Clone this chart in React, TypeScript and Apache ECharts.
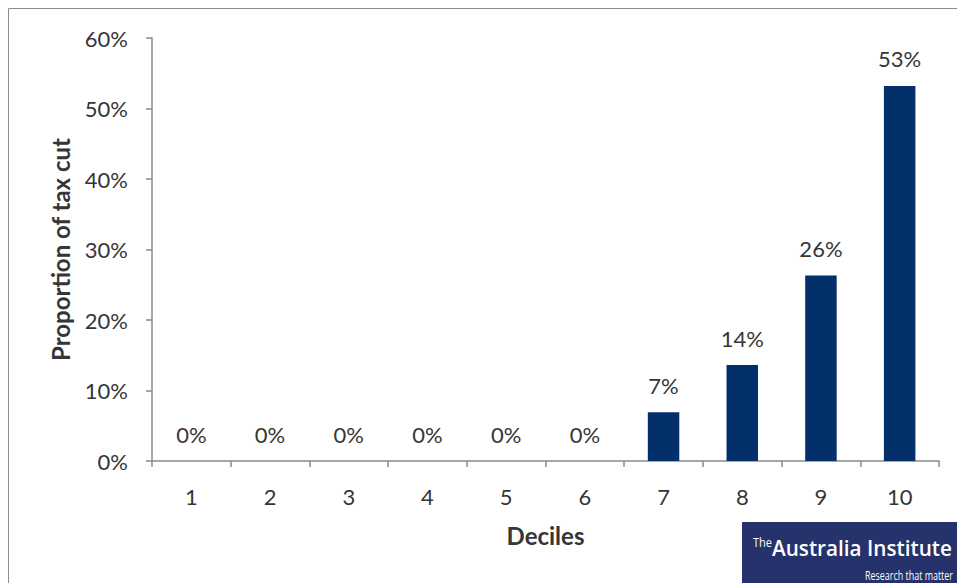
import React, { useEffect, useRef } from "react";
import * as echarts from "echarts";

// Share of the total tax cut received by each income decile (%)
const deciles = ["1", "2", "3", "4", "5", "6", "7", "8", "9", "10"];
const shareOfTaxCut = [0, 0, 0, 0, 0, 0, 6.9, 13.6, 26.3, 53.2];
const yTicks = { min: 0, max: 60, interval: 10 };

const FONT = "Lato, 'Open Sans', sans-serif";
const LOGO_FONT = "'Open Sans', sans-serif";
const TEXT = "#363636";
const AXIS = "#8a8a8a";
const NAVY = "#03306b";

// Horizontal squeeze needed to fit a string into a given width (condensed logo type)
function squeeze(text: string, font: string, width: number): number {
  const ctx = document.createElement("canvas").getContext("2d");
  if (!ctx) return 1;
  ctx.font = font;
  const w = ctx.measureText(text).width;
  return w > 0 ? width / w : 1;
}

export default function App() {
  const ref = useRef<HTMLDivElement>(null);

  useEffect(() => {
    if (!ref.current) return;
    const chart = echarts.init(ref.current, undefined, { renderer: "svg" });

    const logoMain = "Australia Institute";
    const logoTag = "Research that matter";
    const mainScale = squeeze(logoMain, `600 22px ${LOGO_FONT}`, 180);
    const tagScale = squeeze(logoTag, `400 12px ${LOGO_FONT}`, 88);
    const theScale = squeeze("The", `400 12px ${LOGO_FONT}`, 19);

    chart.setOption({
      animation: false,
      backgroundColor: "#ffffff",
      textStyle: { fontFamily: FONT },
      grid: { left: 152, right: 18, top: 38, bottom: 122, containLabel: false },
      xAxis: {
        type: "category",
        data: deciles,
        name: "Deciles",
        nameLocation: "middle",
        nameGap: 62,
        nameTextStyle: { fontFamily: FONT, fontSize: 24, fontWeight: "bold", color: TEXT },
        axisLine: { show: true, lineStyle: { color: AXIS, width: 1.5 } },
        axisTick: { show: true, length: 6, alignWithLabel: false, lineStyle: { color: AXIS, width: 1.5 } },
        axisLabel: { margin: 24, fontFamily: FONT, fontSize: 22, color: TEXT },
        splitLine: { show: false },
      },
      yAxis: {
        type: "value",
        min: yTicks.min,
        max: yTicks.max,
        interval: yTicks.interval,
        name: "Proportion of tax cut",
        nameLocation: "middle",
        nameRotate: 90,
        nameGap: 80,
        nameTextStyle: { fontFamily: FONT, fontSize: 24, fontWeight: "bold", color: TEXT },
        axisLine: { show: true, lineStyle: { color: AXIS, width: 1.5 } },
        axisTick: { show: true, length: 6, lineStyle: { color: AXIS, width: 1.5 } },
        axisLabel: { margin: 24, fontFamily: FONT, fontSize: 22, color: TEXT, formatter: "{value}%" },
        splitLine: { show: false },
      },
      series: [
        {
          type: "bar",
          data: shareOfTaxCut,
          barWidth: "40%",
          itemStyle: { color: NAVY },
          label: {
            show: true,
            position: "top",
            distance: 16,
            fontFamily: FONT,
            fontSize: 22,
            color: TEXT,
            formatter: (p: any) => `${Math.round(p.value)}%`,
          },
        },
      ],
      graphic: [
        {
          type: "rect",
          silent: true,
          shape: { x: 8.5, y: 8.5, width: 2000, height: 2000 },
          style: { fill: "none", stroke: "#8c8c8c", lineWidth: 1 },
          z: 10,
        },
        {
          type: "group",
          z: 20,
          children: [
            {
              type: "rect",
              shape: { x: 742, y: 522, width: 300, height: 100 },
              style: { fill: "#25326b" },
            },
            {
              type: "text",
              x: 753,
              y: 548,
              scaleX: theScale,
              style: {
                text: "The",
                fill: "#ffffff",
                fontFamily: LOGO_FONT,
                fontSize: 12,
                textVerticalAlign: "bottom",
              },
            },
            {
              type: "text",
              x: 772,
              y: 558,
              scaleX: mainScale,
              style: {
                text: logoMain,
                fill: "#ffffff",
                fontFamily: LOGO_FONT,
                fontWeight: 600,
                fontSize: 22,
                textVerticalAlign: "bottom",
              },
            },
            {
              type: "text",
              x: 865,
              y: 581,
              scaleX: tagScale,
              style: {
                text: logoTag,
                fill: "#ffffff",
                fontFamily: LOGO_FONT,
                fontSize: 12,
                textVerticalAlign: "bottom",
              },
            },
          ],
        },
      ],
    });
    return () => chart.dispose();
  }, []);

  return (
    <div
      ref={ref}
      style={{ position: "absolute", left: 0, top: 0, width: 957, height: 583 }}
    />
  );
}
